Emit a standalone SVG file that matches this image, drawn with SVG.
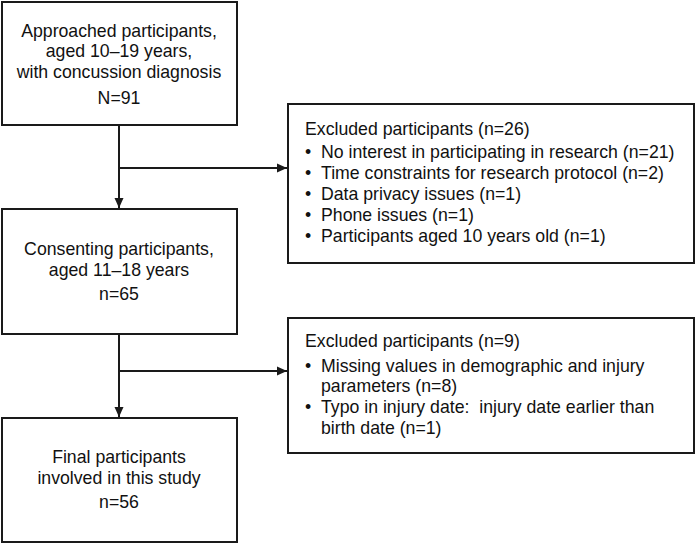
<svg xmlns="http://www.w3.org/2000/svg" width="698" height="544" viewBox="0 0 698 544">
<style>
.box{fill:#fff;stroke:#1a1a1a;stroke-width:2}
text{font-family:"Liberation Sans",Arial,sans-serif;font-size:17.7px;fill:#111}
.c{text-anchor:middle}
.ln{fill:none;stroke:#1a1a1a;stroke-width:2}
</style>
<defs>
<marker id="ah" viewBox="0 0 10 10" refX="10" refY="5" markerWidth="10" markerHeight="10" markerUnits="userSpaceOnUse" orient="auto">
<path d="M0,0.5 L10,5 L0,9.5 Z" fill="#1a1a1a"/>
</marker>
</defs>
<rect width="698" height="544" fill="#fff"/>
<g id="connectors">
<line class="ln" x1="119" y1="125" x2="119" y2="208" marker-end="url(#ah)"/>
<line class="ln" x1="119" y1="168" x2="287" y2="168" marker-end="url(#ah)"/>
<line class="ln" x1="119" y1="334" x2="119" y2="417" marker-end="url(#ah)"/>
<line class="ln" x1="119" y1="371" x2="287" y2="371" marker-end="url(#ah)"/>
</g>
<g id="approached">
<rect class="box" x="2" y="2" width="235" height="123"/>
<text class="c" x="119" y="37">Approached participants,</text>
<text class="c" x="119" y="57">aged 10–19 years,</text>
<text class="c" x="119" y="78">with concussion diagnosis</text>
<text class="c" x="119" y="104">N=91</text>
</g>
<g id="excluded1">
<rect class="box" x="288" y="104" width="406" height="159"/>
<text x="305" y="135">Excluded participants (n=26)</text>
<text x="305" y="158">•</text><text x="321" y="158">No interest in participating in research (n=21)</text>
<text x="305" y="179">•</text><text x="321" y="179">Time constraints for research protocol (n=2)</text>
<text x="305" y="200">•</text><text x="321" y="200">Data privacy issues (n=1)</text>
<text x="305" y="221">•</text><text x="321" y="221">Phone issues (n=1)</text>
<text x="305" y="242">•</text><text x="321" y="242">Participants aged 10 years old (n=1)</text>
</g>
<g id="consenting">
<rect class="box" x="2" y="209" width="235" height="125"/>
<text class="c" x="119" y="255">Consenting participants,</text>
<text class="c" x="119" y="276">aged 11–18 years</text>
<text class="c" x="119" y="300">n=65</text>
</g>
<g id="excluded2">
<rect class="box" x="288" y="318" width="406" height="135"/>
<text x="305" y="347">Excluded participants (n=9)</text>
<text x="305" y="372">•</text><text x="321" y="372">Missing values in demographic and injury</text>
<text x="321" y="392">parameters (n=8)</text>
<text x="305" y="413">•</text><text x="321" y="413">Typo in injury date:&#160; injury date earlier than</text>
<text x="321" y="434">birth date (n=1)</text>
</g>
<g id="final">
<rect class="box" x="2" y="418" width="235" height="124"/>
<text class="c" x="119" y="463">Final participants</text>
<text class="c" x="119" y="484">involved in this study</text>
<text class="c" x="119" y="508">n=56</text>
</g>
</svg>
